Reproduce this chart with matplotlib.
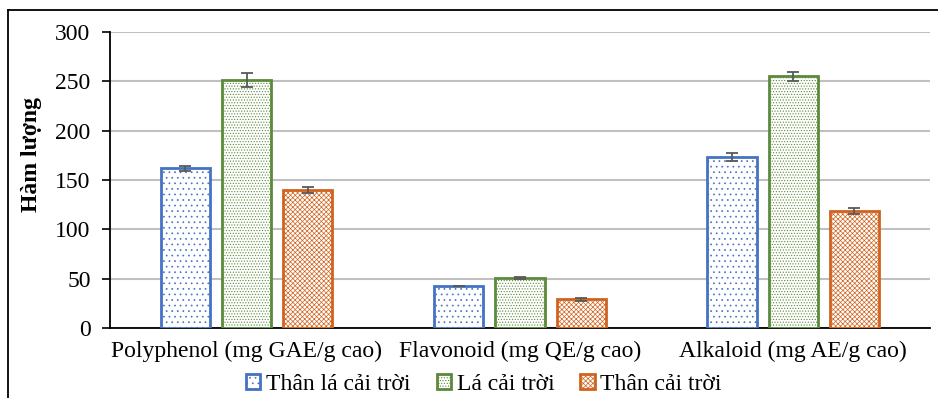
import numpy as np
import matplotlib
matplotlib.use('Agg')
from matplotlib import pyplot as plt
from matplotlib.lines import Line2D

categories = ['Polyphenol (mg GAE/g cao)', 'Flavonoid (mg QE/g cao)', 'Alkaloid (mg AE/g cao)']
series = ['Thân lá cải trời', 'Lá cải trời', 'Thân cải trời']
than_la = [162, 42.5, 173]
la = [251, 50.5, 255]
than = [140, 29, 118.5]
err_than_la = [2.5, 0.5, 4]
err_la = [7, 1, 4.5]
err_than = [3, 1.5, 3]

colors = ['#4472c4', '#5b8a3a', '#d0641f']
hatches = ['...', '......', 'xxxxxxx']

plt.rcParams['font.family'] = ['Liberation Serif', 'DejaVu Serif']
plt.rcParams['hatch.linewidth'] = 0.5

fig = plt.figure(figsize=(9.38, 3.98), dpi=100)
ax = fig.add_axes([0.1173, 0.176, 0.874, 0.744])

x = np.arange(len(categories))
w = 0.18
off = 0.224
vals = [than_la, la, than]
errs = [err_than_la, err_la, err_than]
for i in range(3):
    # hatch layer, then solid outline
    ax.bar(x + (i - 1) * off, vals[i], w, color='white', edgecolor=colors[i],
           hatch=hatches[i], linewidth=0, zorder=3)
    ax.bar(x + (i - 1) * off, vals[i], w, color='none', edgecolor=colors[i],
           linewidth=2, zorder=3)
    ax.bar([np.nan], [0], color='white', edgecolor=colors[i], hatch=hatches[i],
           linewidth=2, label=series[i])
    ax.errorbar(x + (i - 1) * off, vals[i], yerr=errs[i], fmt='none',
                ecolor='#595959', elinewidth=1.3, capsize=4, capthick=1.3, zorder=4)

ax.set_xlim(-0.5, 2.5)
ax.set_ylim(0, 300)
ax.set_yticks(np.arange(0, 301, 50))
ax.set_xticks(x)
ax.set_xticklabels(categories)
ax.tick_params(axis='x', length=0, labelsize=17, pad=9)
ax.tick_params(axis='y', direction='out', length=6, width=1.2, labelsize=17, pad=8)
ax.grid(axis='y', color='#c0c0c0', linewidth=1.5, zorder=0)
ax.set_axisbelow(True)
for s in ['top', 'right']:
    ax.spines[s].set_visible(False)
ax.spines['left'].set_linewidth(1.3)
ax.spines['bottom'].set_linewidth(1.3)
ax.set_ylabel('Hàm lượng', fontsize=17, fontweight='bold', labelpad=8)
ax.yaxis.set_label_coords(-0.083, 0.585)

fig.legend(loc='lower center', bbox_to_anchor=(0.516, -0.045), ncol=3, frameon=False,
           fontsize=17, handlelength=0.6, handleheight=0.6, handletextpad=0.25,
           columnspacing=1.1)

# outer frame (left and top visible)
fig.add_artist(Line2D([0.009, 0.009], [0, 0.975], color='black', linewidth=1.3,
                      transform=fig.transFigure))
fig.add_artist(Line2D([0.009, 1.0], [0.975, 0.975], color='black', linewidth=1.3,
                      transform=fig.transFigure))

fig.savefig('out.png', dpi=100)
